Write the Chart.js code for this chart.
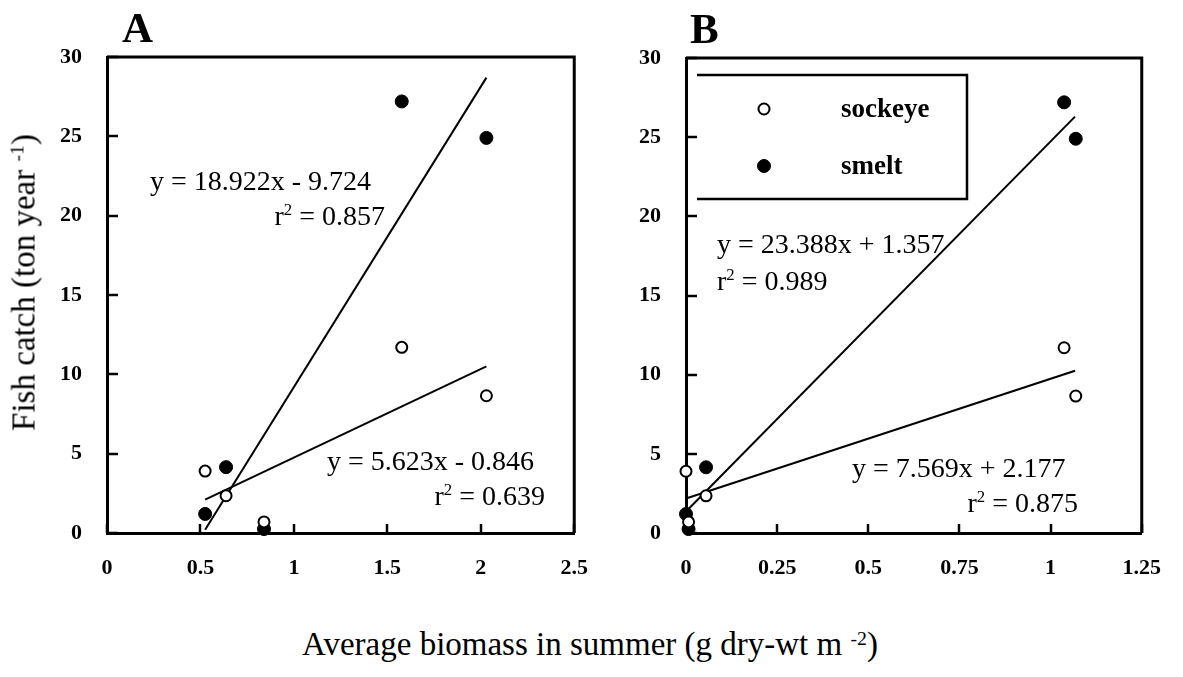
<!DOCTYPE html>
<html><head><meta charset="utf-8">
<script src="https://cdn.jsdelivr.net/npm/chart.js@4.4.1/dist/chart.umd.min.js"></script>
<style>
html,body{margin:0;padding:0;background:#fff;}
body{width:1183px;height:677px;position:relative;overflow:hidden;font-family:"Liberation Serif","Times New Roman",serif;color:#000;}
canvas{position:absolute;}
.t{position:absolute;white-space:nowrap;line-height:1;font-size:28px;}
.r{transform:none;}
.sup{font-size:0.6em;position:relative;top:-0.55em;}
.panel{position:absolute;line-height:1;font-size:43px;font-weight:bold;}
.ax{position:absolute;line-height:1;font-size:33px;white-space:nowrap;}
</style></head>
<body>
<canvas id="cA" width="610" height="600" style="left:0;top:0"></canvas>
<canvas id="cB" width="583" height="600" style="left:600px;top:0"></canvas>

<div class="panel" style="left:122px;top:6px">A</div>
<div class="panel" style="left:690px;top:7px">B</div>

<div class="t" style="left:150px;top:166.5px">y = 18.922x - 9.724</div>
<div class="t" style="right:798px;top:201.5px">r<span class="sup">2</span> = 0.857</div>
<div class="t" style="left:327px;top:446.5px">y = 5.623x - 0.846</div>
<div class="t" style="right:638px;top:481.5px">r<span class="sup">2</span> = 0.639</div>

<div class="t" style="left:717px;top:229.5px">y = 23.388x + 1.357</div>
<div class="t" style="left:717px;top:266.5px">r<span class="sup">2</span> = 0.989</div>
<div class="t" style="left:852px;top:453.5px">y = 7.569x + 2.177</div>
<div class="t" style="right:105px;top:488.5px">r<span class="sup">2</span> = 0.875</div>

<div class="ax" style="left:590px;top:628.4px;transform:translateX(-50%)">Average biomass in summer (g dry-wt m <span class="sup">-2</span>)</div>
<div class="ax" style="left:-176px;top:265.5px;width:400px;height:33px;text-align:center;transform:rotate(-90deg)">Fish catch (ton year <span class="sup">-1</span>)</div>

<script>
// ---- data ----
const seriesNames = ['sockeye', 'smelt'];
const biomassA = [0.525, 0.637, 0.84, 1.577, 2.03];
const biomassB = [0.0, 0.055, 0.007, 1.037, 1.069];
const catchSockeye = [3.9, 2.35, 0.7, 11.7, 8.65];
const catchSmelt = [1.2, 4.15, 0.25, 27.2, 24.9];

// regression line end points (as drawn)
const trendA_sockeye_x = [0.525, 2.03];
const trendA_sockeye_y = [2.1, 10.5];
const trendA_smelt_x = [0.525, 2.03];
const trendA_smelt_y = [0.2, 28.7];
const trendB_sockeye_x = [0.0, 1.067];
const trendB_sockeye_y = [2.18, 10.25];
const trendB_smelt_x = [0.0, 1.067];
const trendB_smelt_y = [1.36, 26.3];

const xTicksA = [0, 0.5, 1, 1.5, 2, 2.5];
const xTicksB = [0, 0.25, 0.5, 0.75, 1, 1.25];
const yTicks = [0, 5, 10, 15, 20, 25, 30];

// ---- helpers ----
const FONT = '"Liberation Serif","Times New Roman",serif';
const pts = (xs, ys) => xs.map((x, i) => ({x: x, y: ys[i]}));

function pointSets(xs) {
  return [
    {type:'scatter', label: seriesNames[0], data: pts(xs, catchSockeye), order:0, clip:false,
     pointStyle:'circle', pointRadius:5.5, pointBorderWidth:2, pointBackgroundColor:'#fff', pointBorderColor:'#000',
     backgroundColor:'#fff', borderColor:'#000', borderWidth:2},
    {type:'scatter', label: seriesNames[1], data: pts(xs, catchSmelt), order:0, clip:false,
     pointStyle:'circle', pointRadius:6.5, pointBorderWidth:1, pointBackgroundColor:'#000', pointBorderColor:'#000',
     backgroundColor:'#000', borderColor:'#000', borderWidth:1}
  ];
}
function lineSet(xs, ys) {
  return {type:'line', label:'trend', data: pts(xs, ys), order:1, clip:false,
    borderColor:'#000', borderWidth:2, pointRadius:0, fill:false, tension:0, showLine:true};
}

const framePlugin = {
  id:'frame',
  beforeDatasetsDraw(chart) {
    const ctx = chart.ctx, a = chart.chartArea, x = chart.scales.x, y = chart.scales.y;
    ctx.save();
    ctx.strokeStyle = '#000';
    ctx.lineWidth = 3;
    ctx.beginPath();
    ctx.moveTo(a.left, a.top); ctx.lineTo(a.right, a.top); ctx.lineTo(a.right, a.bottom);
    ctx.stroke();
    ctx.lineWidth = 2.5;
    y.ticks.forEach(t => {
      const py = Math.round(y.getPixelForValue(t.value));
      ctx.beginPath(); ctx.moveTo(a.left, py); ctx.lineTo(a.left + 11, py); ctx.stroke();
    });
    x.ticks.forEach(t => {
      const px = Math.round(x.getPixelForValue(t.value));
      ctx.beginPath(); ctx.moveTo(px, a.bottom); ctx.lineTo(px, a.bottom - 9); ctx.stroke();
    });
    ctx.restore();
  }
};

const legendPlugin = {
  id:'boxLegend',
  afterDraw(chart, args, opts) {
    if (!opts || !opts.show) return;
    const ctx = chart.ctx;
    const b = opts.box;
    ctx.save();
    ctx.strokeStyle = '#000'; ctx.lineWidth = 2.5;
    ctx.beginPath();
    ctx.moveTo(b.left, b.top); ctx.lineTo(b.right, b.top); ctx.lineTo(b.right, b.bottom); ctx.lineTo(b.left, b.bottom);
    ctx.stroke();
    ctx.font = 'bold 27px ' + FONT;
    ctx.textBaseline = 'middle';
    ctx.textAlign = 'left';
    ctx.fillStyle = '#000';
    [0, 1].forEach(i => {
      const ds = chart.data.datasets[i];
      const yy = opts.rows[i];
      ctx.fillStyle = ds.pointBackgroundColor;
      ctx.strokeStyle = ds.pointBorderColor;
      ctx.lineWidth = ds.pointBorderWidth;
      Chart.helpers.drawPoint(ctx, {pointStyle:'circle', radius: ds.pointRadius, borderWidth: ds.pointBorderWidth, rotation:0}, opts.markerX, yy);
      ctx.fillStyle = '#000';
      ctx.fillText(ds.label, opts.textX, yy + 1);
    });
    ctx.restore();
  }
};

function makeChart(id, xs, xMax, xTicks, yWidth, padTop, padRight, trends, legendOpts) {
  return new Chart(document.getElementById(id), {
    data: { datasets: pointSets(xs).concat(trends) },
    plugins: [framePlugin, legendPlugin],
    options: {
      responsive:false, animation:false, devicePixelRatio:1,
      layout:{padding:{left:0, top:padTop, right:padRight, bottom:0}},
      plugins:{legend:{display:false}, tooltip:{enabled:false}, boxLegend: legendOpts},
      scales:{
        x:{type:'linear', position:'bottom', min:0, max:xMax,
           afterBuildTicks: s => { s.ticks = xTicks.map(v => ({value:v})); },
           afterFit: s => { s.height = 67; },
           grid:{display:false, drawTicks:false},
           border:{display:true, color:'#000', width:3},
           ticks:{color:'#000', font:{family:FONT, size:22, weight:'bold'}, padding:22, maxRotation:0, minRotation:0, autoSkip:false,
                  callback: v => String(v)}},
        y:{type:'linear', position:'left', min:0, max:30,
           afterBuildTicks: s => { s.ticks = yTicks.map(v => ({value:v})); },
           afterFit: s => { s.width = yWidth; },
           grid:{display:false, drawTicks:false},
           border:{display:true, color:'#000', width:3},
           ticks:{color:'#000', font:{family:FONT, size:22, weight:'bold'}, padding:25, autoSkip:false,
                  callback: v => String(v)}}
      }
    }
  });
}

makeChart('cA', biomassA, 2.5, xTicksA, 107, 57, 27,
  [lineSet(trendA_smelt_x, trendA_smelt_y), lineSet(trendA_sockeye_x, trendA_sockeye_y)],
  {show:false});

makeChart('cB', biomassB, 1.25, xTicksB, 86, 58, 21,
  [lineSet(trendB_smelt_x, trendB_smelt_y), lineSet(trendB_sockeye_x, trendB_sockeye_y)],
  {show:true, box:{left:97, right:367, top:75, bottom:199}, markerX:164, textX:241, rows:[109, 166]});
</script>
</body></html>
